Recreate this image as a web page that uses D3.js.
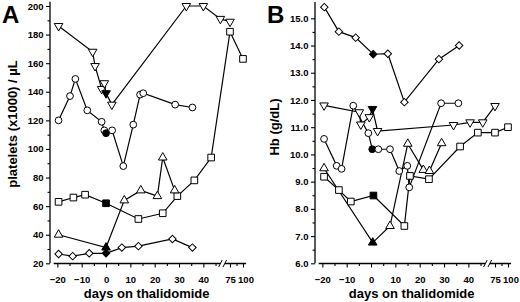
<!DOCTYPE html>
<html>
<head>
<meta charset="utf-8">
<script src="https://d3js.org/d3.v7.min.js"></script>
<style>
  body { margin: 0; background: #fff; }
  text { font-family: "Liberation Sans", Arial, sans-serif; font-weight: bold; fill: #000; }
</style>
</head>
<body>
<div id="chart"></div>
<script>
// ---- panel A: platelets (x1000) / µL ----
const pltTriDownDays = [-19.5, -5.5, -4.5, -1.8, -0.7, 0, 2.4, 33, 40, 47, 75];
const pltTriDownVals = [186, 168, 158, 142, 146, 139, 131, 200, 200, 191, 189];
const pltCircleDays = [-19.5, -14.8, -12.6, -7.7, -1.8, -0.7, 0, 2.5, 7.1, 11.2, 14, 15.3, 28.4, 35.5];
const pltCircleVals = [120, 137, 149, 127, 119, 113, 111, 113, 88, 117, 138, 139, 131, 129];
const pltSquareDays = [-19.5, -13.4, -8.6, 0, 13.3, 23.3, 29.3, 36.3, 43.2, 75, 100];
const pltSquareVals = [63, 66, 68, 62, 51, 55, 67, 78, 94, 182, 163];
const pltTriUpDays = [-19.5, 0, 7.5, 14.3, 21.1, 23.3, 28.2];
const pltTriUpVals = [40, 31, 64, 71, 67, 94, 71];
const pltDiamondDays = [-19.5, -13.7, -6.9, 0, 6.5, 13.3, 27.3, 35.5];
const pltDiamondVals = [26.5, 25, 27, 27, 31, 32, 37, 31];
const pltTicks = [20, 40, 60, 80, 100, 120, 140, 160, 180, 200];

// ---- panel B: Hb (g/dL) ----
const hbTriDownDays = [-19.3, -4.8, -4.2, -0.7, 0.6, 2.7, 33.9, 40.7, 45.9, 75];
const hbTriDownVals = [11.8, 11.55, 11.1, 11.37, 11.67, 10.86, 11.08, 11.18, 11.18, 11.78];
const hbCircleDays = [-19.3, -14.1, -12.1, -7.3, -1.1, 0.5, 3, 7.8, 11.6, 14.9, 15.7, 28.8, 35.9];
const hbCircleVals = [10.57, 9.58, 9.47, 11.79, 10.78, 10.19, 10.19, 10.19, 9.39, 9.58, 8.79, 11.88, 11.88];
const hbSquareDays = [-19.3, -13.2, -8.3, 1, 13.7, 16, 23.8, 36.6, 43.9, 75, 100];
const hbSquareVals = [9.18, 8.69, 8.27, 8.49, 7.37, 9.21, 9.09, 10.29, 10.8, 10.8, 11.0];
const hbTriUpDays = [-19.3, 0.7, 7.8, 15.1, 21.5, 24, 29];
const hbTriUpVals = [9.49, 6.76, 7.37, 10.39, 9.43, 9.39, 10.41];
const hbDiamondDays = [-19.2, -13.2, -6.3, 0.9, 6.9, 13.7, 27.9, 36.2];
const hbDiamondVals = [15.41, 14.51, 14.29, 13.68, 13.7, 11.92, 13.5, 14.0];
const hbTicks = [6, 7, 8, 9, 10, 11, 12, 13, 14, 15];

// ---- shared x axis (broken after 47 days) ----
const xTicks = [-20, -10, 0, 10, 20, 30, 40, 75, 100];
const xMinorTicks = [-15, -5, 5, 15, 25, 35, 45, 87.5];

const svg = d3.select("#chart").append("svg")
  .attr("width", 520)
  .attr("height", 302);

const x = d3.scaleLinear()
  .domain([-21.5, 47, 65, 106])
  .range([53.7, 220.4, 224.8, 246.1]);
const axisY = 263.5;
const yAxisX = 50;

// day-0 sample drawn filled
const isBaseline = day => day >= 0 && day < 1.2;

const shapes = {
  circle: { d: d3.symbol().type(d3.symbolCircle).size(36)(), rot: 0 },
  square: { d: d3.symbol().type(d3.symbolSquare).size(44)(), rot: 0 },
  triUp: { d: d3.symbol().type(d3.symbolTriangle).size(32)(), rot: 0 },
  triDown: { d: d3.symbol().type(d3.symbolTriangle).size(32)(), rot: 180 },
  diamond: { d: d3.symbol().type(d3.symbolSquare).size(28)(), rot: 45 }
};

function drawPanel(offsetX, letter, title, titleY, y, yTop, ticks, fmt, series) {
  const g = svg.append("g").attr("transform", `translate(${offsetX},0)`);

  // y axis
  const minor = d3.pairs(ticks).map(p => (p[0] + p[1]) / 2);
  g.append("g")
    .attr("transform", `translate(${yAxisX},0)`)
    .call(d3.axisLeft(y).tickValues(minor).tickSize(2.5).tickFormat(""))
    .call(a => a.select(".domain").remove());
  const ya = g.append("g")
    .attr("transform", `translate(${yAxisX},0)`)
    .call(d3.axisLeft(y).tickValues(ticks).tickSize(4).tickPadding(2.5).tickFormat(fmt));
  ya.select(".domain").remove();
  ya.selectAll("text").attr("font-size", 9.5).style("font-family", null);
  g.append("line")
    .attr("x1", yAxisX).attr("x2", yAxisX)
    .attr("y1", y(yTop)).attr("y2", y(ticks[0]))
    .attr("stroke", "#000").attr("stroke-width", 1.3);

  // x axis
  g.append("g")
    .attr("transform", `translate(0,${axisY})`)
    .call(d3.axisBottom(x).tickValues(xMinorTicks).tickSize(2.5).tickFormat(""))
    .call(a => a.select(".domain").remove());
  const xa = g.append("g")
    .attr("transform", `translate(0,${axisY})`)
    .call(d3.axisBottom(x).tickValues(xTicks).tickSize(4));
  xa.select(".domain").remove();
  xa.selectAll("text")
    .attr("font-size", 9.5)
    .style("font-family", null)
    .attr("y", 13)
    .attr("dx", d => d === 100 ? 2.5 : 0);
  g.append("path")
    .attr("d", `M${x(-21.5)},${axisY}H${x(47)}M${x(65)},${axisY}H${x(106)}`)
    .attr("stroke", "#000").attr("stroke-width", 1.3);
  // break marks
  [x(47), x(65)].forEach(bx => {
    g.append("line")
      .attr("x1", bx - 1.8).attr("y1", axisY + 3.5)
      .attr("x2", bx + 1.8).attr("y2", axisY - 3.5)
      .attr("stroke", "#000").attr("stroke-width", 1);
  });

  g.selectAll(".tick line").attr("stroke", "#000").attr("stroke-width", 1.1);

  // titles
  g.append("text")
    .attr("x", 146.7).attr("y", 297.5)
    .attr("text-anchor", "middle")
    .attr("font-size", 13)
    .text("days on thalidomide");
  g.append("text")
    .attr("transform", `translate(${title.x},${titleY}) rotate(-90)`)
    .attr("text-anchor", "middle")
    .attr("font-size", 13)
    .text(title.text);
  g.append("text")
    .attr("x", letter.x).attr("y", 23)
    .attr("font-size", 24)
    .text(letter.text);

  // series
  const line = d3.line().x(d => x(d.day)).y(d => y(d.val));
  const data = series.map(s => ({
    shape: s.shape,
    pts: s.days.map((d, i) => ({ day: d, val: s.vals[i] }))
  }));
  data.forEach(s => {
    g.append("path").datum(s.pts)
      .attr("fill", "none")
      .attr("stroke", "#000")
      .attr("stroke-width", 1.2)
      .attr("d", line);
  });
  data.forEach(s => {
    const sh = shapes[s.shape];
    g.selectAll(null).data(s.pts).enter().append("path")
      .attr("transform", d => `translate(${x(d.day)},${y(d.val)}) rotate(${sh.rot})`)
      .attr("d", sh.d)
      .attr("fill", d => isBaseline(d.day) ? "#000" : "#fff")
      .attr("stroke", "#000")
      .attr("stroke-width", 1);
  });
}

const yPlt = d3.scaleLinear().domain([20, 200]).range([263.3, 6]);
drawPanel(0, { text: "A", x: 2 }, { text: "platelets (x1000) / µL", x: 17 }, 124, yPlt, 203,
  pltTicks, d3.format("d"), [
    { shape: "triDown", days: pltTriDownDays, vals: pltTriDownVals },
    { shape: "circle", days: pltCircleDays, vals: pltCircleVals },
    { shape: "square", days: pltSquareDays, vals: pltSquareVals },
    { shape: "triUp", days: pltTriUpDays, vals: pltTriUpVals },
    { shape: "diamond", days: pltDiamondDays, vals: pltDiamondVals }
  ]);

const yHb = d3.scaleLinear().domain([6, 15]).range([263.3, 18.3]);
drawPanel(265, { text: "B", x: 2 }, { text: "Hb (g/dL)", x: 14 }, 127, yHb, 15.6,
  hbTicks, d3.format(".1f"), [
    { shape: "triDown", days: hbTriDownDays, vals: hbTriDownVals },
    { shape: "circle", days: hbCircleDays, vals: hbCircleVals },
    { shape: "square", days: hbSquareDays, vals: hbSquareVals },
    { shape: "triUp", days: hbTriUpDays, vals: hbTriUpVals },
    { shape: "diamond", days: hbDiamondDays, vals: hbDiamondVals }
  ]);
</script>
</body>
</html>
